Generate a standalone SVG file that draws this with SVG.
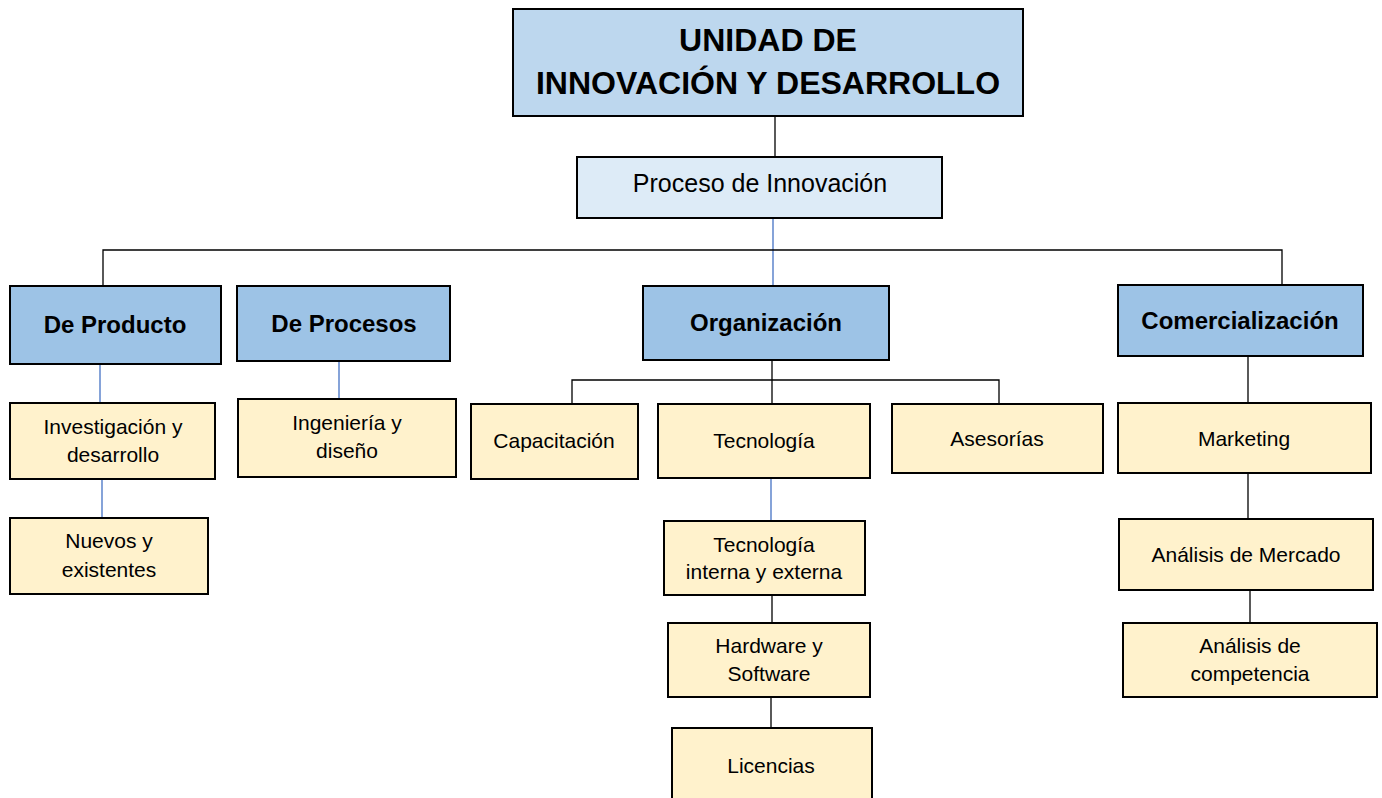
<svg xmlns="http://www.w3.org/2000/svg" width="1382" height="798" viewBox="0 0 1382 798">
<style>
  .box { stroke: #000; stroke-width: 2; }
  .title { fill: #BDD7EE; }
  .proc { fill: #DDEBF7; }
  .cat { fill: #9DC3E6; }
  .item { fill: #FFF2CC; }
  text { font-family: "Liberation Sans", Arial, sans-serif; fill: #000; text-anchor: middle; }
  .t1 { font-size: 32px; font-weight: bold; }
  .t2 { font-size: 25px; }
  .t3 { font-size: 24px; font-weight: bold; }
  .t4 { font-size: 21px; }
  .k { stroke: #000; stroke-width: 1.3; fill: none; }
  .b { stroke: #4472C4; stroke-width: 1.3; fill: none; }
</style>
<rect width="1382" height="798" fill="#fff"/>
<g id="connectors">
  <line class="k" x1="775" y1="116" x2="775" y2="157"/>
  <line class="b" x1="773" y1="218" x2="773" y2="286"/>
  <polyline class="k" points="103,286 103,250 1282,250 1282,285"/>
  <line class="b" x1="100" y1="364" x2="100" y2="403"/>
  <line class="b" x1="102" y1="479" x2="102" y2="518"/>
  <line class="b" x1="339" y1="361" x2="339" y2="399"/>
  <line class="k" x1="772" y1="360" x2="772" y2="404"/>
  <polyline class="k" points="572,404 572,380 999,380 999,404"/>
  <line class="b" x1="771" y1="478" x2="771" y2="521"/>
  <line class="k" x1="772" y1="595" x2="772" y2="623"/>
  <line class="k" x1="771" y1="697" x2="771" y2="728"/>
  <line class="k" x1="1248" y1="356" x2="1248" y2="403"/>
  <line class="k" x1="1248" y1="473" x2="1248" y2="519"/>
  <line class="k" x1="1250" y1="590" x2="1250" y2="623"/>
</g>
<g id="n-title">
  <rect class="box title" x="513" y="9" width="510" height="107"/>
  <text class="t1" x="768" y="51">UNIDAD DE</text>
  <text class="t1" x="768" y="94">INNOVACIÓN Y DESARROLLO</text>
</g>
<g id="n-proceso">
  <rect class="box proc" x="577" y="157" width="365" height="61"/>
  <text class="t2" x="760" y="192">Proceso de Innovación</text>
</g>
<g id="n-producto">
  <rect class="box cat" x="10" y="286" width="211" height="78"/>
  <text class="t3" x="115" y="333">De Producto</text>
</g>
<g id="n-procesos">
  <rect class="box cat" x="237" y="286" width="213" height="75"/>
  <text class="t3" x="344" y="332">De Procesos</text>
</g>
<g id="n-organizacion">
  <rect class="box cat" x="643" y="286" width="246" height="74"/>
  <text class="t3" x="766" y="331">Organización</text>
</g>
<g id="n-comercializacion">
  <rect class="box cat" x="1118" y="285" width="245" height="71"/>
  <text class="t3" x="1240" y="329">Comercialización</text>
</g>
<g id="n-investigacion">
  <rect class="box item" x="10" y="403" width="205" height="76"/>
  <text class="t4" x="113" y="434">Investigación y</text>
  <text class="t4" x="113" y="462">desarrollo</text>
</g>
<g id="n-nuevos">
  <rect class="box item" x="10" y="518" width="198" height="76"/>
  <text class="t4" x="109" y="548">Nuevos y</text>
  <text class="t4" x="109" y="577">existentes</text>
</g>
<g id="n-ingenieria">
  <rect class="box item" x="238" y="399" width="218" height="78"/>
  <text class="t4" x="347" y="430">Ingeniería y</text>
  <text class="t4" x="347" y="458">diseño</text>
</g>
<g id="n-capacitacion">
  <rect class="box item" x="471" y="404" width="167" height="75"/>
  <text class="t4" x="554" y="448">Capacitación</text>
</g>
<g id="n-tecnologia">
  <rect class="box item" x="658" y="404" width="212" height="74"/>
  <text class="t4" x="764" y="448">Tecnología</text>
</g>
<g id="n-asesorias">
  <rect class="box item" x="892" y="404" width="211" height="69"/>
  <text class="t4" x="997" y="446">Asesorías</text>
</g>
<g id="n-tecinterna">
  <rect class="box item" x="664" y="521" width="201" height="74"/>
  <text class="t4" x="764" y="552">Tecnología</text>
  <text class="t4" x="764" y="579">interna y externa</text>
</g>
<g id="n-hardware">
  <rect class="box item" x="668" y="623" width="202" height="74"/>
  <text class="t4" x="769" y="653">Hardware y</text>
  <text class="t4" x="769" y="681">Software</text>
</g>
<g id="n-licencias">
  <rect class="box item" x="672" y="728" width="200" height="80"/>
  <text class="t4" x="771" y="773">Licencias</text>
</g>
<g id="n-marketing">
  <rect class="box item" x="1118" y="403" width="253" height="70"/>
  <text class="t4" x="1244" y="446">Marketing</text>
</g>
<g id="n-mercado">
  <rect class="box item" x="1119" y="519" width="254" height="71"/>
  <text class="t4" x="1246" y="562">Análisis de Mercado</text>
</g>
<g id="n-competencia">
  <rect class="box item" x="1123" y="623" width="254" height="74"/>
  <text class="t4" x="1250" y="653">Análisis de</text>
  <text class="t4" x="1250" y="681">competencia</text>
</g>
</svg>
